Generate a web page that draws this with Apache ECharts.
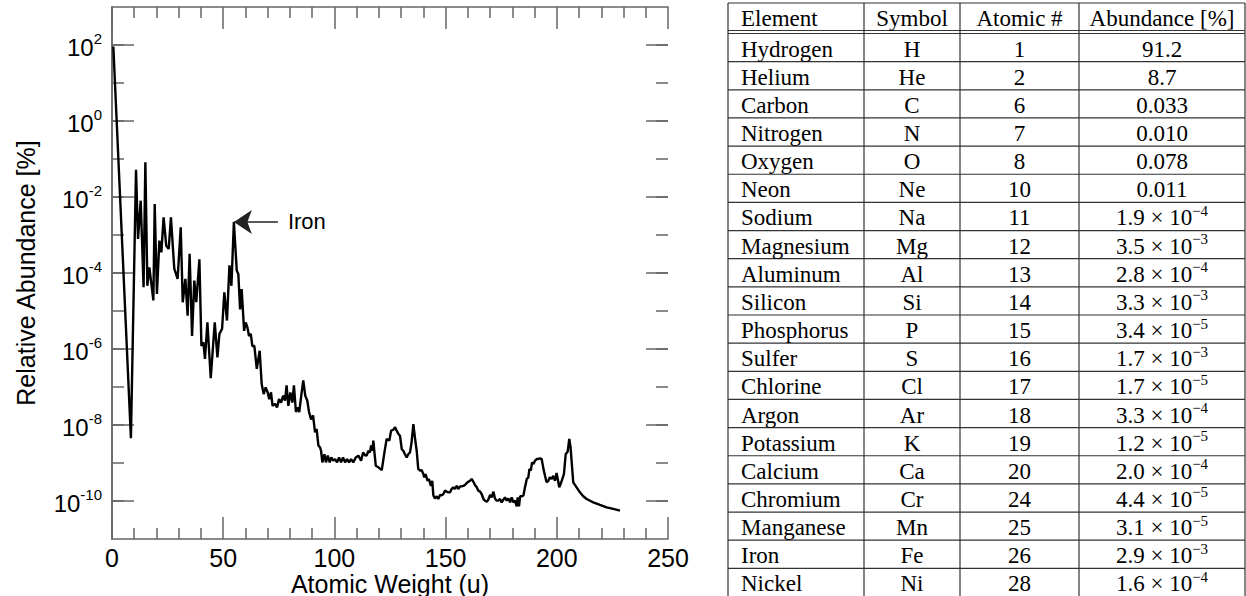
<!DOCTYPE html>
<html>
<head>
<meta charset="utf-8">
<script src="https://cdn.jsdelivr.net/npm/echarts@6/dist/echarts.min.js"></script>
<style>
html,body{margin:0;padding:0;background:#fff;}
#chart{width:1246px;height:596px;}
</style>
</head>
<body>
<div id="chart"></div>
<script>
// ---------- Line chart data ----------
const atomicWeight = [
  0.6, 8.5, 10.8, 11.7, 12.9, 14.2, 15.0, 15.9, 16.8, 18.6,
  19.2, 20.2, 21.3, 22.2, 23.2, 24.4, 25.5, 26.5, 28.0, 29.5,
  30.9, 31.8, 33.0, 34.0, 34.9, 36.0, 37.0, 37.9, 39.3, 40.2,
  41.1, 41.8, 42.9, 44.4, 46.2, 47.4, 48.3, 49.5, 50.5, 51.7,
  52.8, 53.7, 54.8, 56.1, 56.8, 57.6, 58.3, 59.4, 60.1, 60.9,
  61.6, 62.4, 63.1, 64.0, 65.1, 66.4, 67.3, 68.2, 69.1, 70.0,
  70.7, 71.5, 72.2, 73.3, 74.2, 75.1, 76.0, 77.0, 77.8, 78.5,
  79.3, 80.2, 81.1, 81.8, 82.7, 83.5, 84.2, 85.1, 86.0, 86.9,
  87.8, 88.6, 89.5, 90.4, 91.3, 92.0, 92.8, 93.5, 94.0, 94.6,
  95.5, 96.2, 97.0, 97.9, 98.6, 99.5, 100.3, 101.2, 102.1, 103.0,
  103.9, 104.8, 105.7, 106.6, 107.5, 108.5, 109.6, 110.8, 112.0, 112.9,
  113.8, 114.5, 115.3, 116.0, 116.5, 117.1, 117.5, 118.0, 118.6, 119.8,
  121.3, 122.5, 123.5, 124.7, 125.5, 126.5, 127.3, 128.0, 128.8, 129.5,
  130.3, 131.0, 131.7, 132.5, 133.2, 134.0, 134.7, 135.5, 136.2, 137.0,
  137.7, 138.5, 139.2, 140.0, 140.4, 141.0, 141.9, 142.5, 143.4, 144.0,
  144.5, 145.2, 146.0, 146.7, 147.5, 148.2, 149.0, 149.7, 150.5, 151.2,
  152.0, 152.7, 153.5, 154.2, 155.0, 155.7, 156.5, 157.2, 158.0, 158.7,
  159.5, 160.2, 161.0, 161.7, 162.5, 163.2, 164.0, 164.7, 165.5, 166.2,
  167.0, 167.7, 168.5, 169.2, 170.0, 170.7, 171.5, 172.2, 173.0, 173.7,
  174.5, 175.2, 176.7, 177.5, 178.2, 179.0, 179.7, 180.5, 181.2, 182.0,
  182.4, 183.0, 183.5, 184.2, 185.0, 185.7, 186.5, 187.2, 187.7, 188.3,
  188.9, 189.5, 190.2, 191.0, 191.7, 192.5, 193.2, 194.0, 194.7, 195.4,
  196.2, 196.9, 197.7, 198.4, 199.2, 199.9, 200.7, 201.1, 201.7, 202.5,
  203.2, 204.0, 204.9, 205.6, 206.2, 206.7, 207.4, 208.9, 210.4, 211.9,
  213.4, 216.4, 219.4, 222.4, 225.4, 228.4
];
const relAbundance = [
  91, 4.5e-9, 5.2e-2, 7.9e-4, 8.0e-3, 4.2e-5, 8.2e-2, 4.6e-5, 1.4e-4, 1.9e-5,
  6.5e-3, 2.8e-5, 7.1e-4, 3.5e-4, 2.9e-3, 5.2e-4, 4.3e-4, 2.9e-3, 1.3e-4, 7.0e-5,
  1.6e-3, 1.7e-5, 7.0e-5, 7.5e-6, 3.2e-4, 2.2e-6, 6.3e-5, 1.7e-5, 2.3e-4, 1.2e-6,
  1.5e-6, 5.5e-7, 5.0e-6, 1.7e-7, 5.0e-6, 6.0e-7, 2.5e-6, 3.4e-6, 3.1e-5, 5.6e-6,
  1.6e-4, 4.6e-5, 2.2e-3, 1.15e-4, 9.4e-5, 1.1e-5, 3.8e-5, 3.0e-6, 5.0e-6, 3.7e-6,
  2.2e-6, 2.5e-6, 1.2e-6, 1.2e-6, 3.0e-7, 9.0e-7, 1.2e-7, 6.5e-8, 9.8e-8, 7.2e-8,
  4.8e-8, 7.2e-8, 3.2e-8, 3.6e-8, 2.9e-8, 4.8e-8, 3.9e-8, 5.9e-8, 4.4e-8, 1.1e-7,
  3.2e-8, 7.2e-8, 3.9e-8, 1.1e-7, 2.2e-8, 2.9e-8, 2.2e-8, 5.9e-8, 1.5e-7, 5.9e-8,
  4.4e-8, 2.2e-8, 1.4e-8, 1.8e-8, 6.4e-9, 7.9e-9, 2.9e-9, 2.6e-9, 2.1e-9, 1.04e-9,
  1.7e-9, 1.04e-9, 1.56e-9, 1.04e-9, 1.4e-9, 1.15e-9, 1.27e-9, 1.04e-9, 1.4e-9, 1.04e-9,
  1.4e-9, 1.04e-9, 1.27e-9, 1.04e-9, 1.27e-9, 1.04e-9, 1.4e-9, 1.56e-9, 1.15e-9, 1.9e-9,
  1.6e-9, 1.56e-9, 2.1e-9, 1.9e-9, 2.9e-9, 2.1e-9, 3.9e-9, 1.9e-9, 8.5e-10, 7.7e-10,
  6.5e-10, 1.9e-9, 4.3e-9, 3.9e-9, 7.1e-9, 7.5e-9, 8.7e-9, 7.1e-9, 5.8e-9, 5.2e-9,
  2.3e-9, 2.1e-9, 1.7e-9, 1.4e-9, 1.7e-9, 1.9e-9, 3.5e-9, 1.06e-8, 4.7e-9, 2.1e-9,
  7.0e-10, 6.3e-10, 6.5e-10, 5.1e-10, 4.2e-10, 5.1e-10, 3.4e-10, 3.8e-10, 2.5e-10, 3.4e-10,
  1.4e-10, 1.17e-10, 1.33e-10, 1.13e-10, 1.44e-10, 1.4e-10, 1.53e-10, 1.87e-10, 1.76e-10, 1.69e-10,
  1.69e-10, 2.07e-10, 2.29e-10, 2.07e-10, 2.5e-10, 2.07e-10, 2.43e-10, 2.43e-10, 2.5e-10, 2.64e-10,
  2.98e-10, 3.2e-10, 3.4e-10, 3.8e-10, 3.2e-10, 2.64e-10, 2.29e-10, 1.87e-10, 1.76e-10, 1.53e-10,
  1.13e-10, 1.02e-10, 9.6e-11, 1.08e-10, 1.44e-10, 1.25e-10, 1.76e-10, 1.17e-10, 1.02e-10, 1.02e-10,
  1.13e-10, 9.2e-11, 1.25e-10, 1.02e-10, 1.17e-10, 9.2e-11, 1.25e-10, 9.2e-11, 1.02e-10, 7.2e-11,
  1.25e-10, 7.2e-11, 1.33e-10, 1.33e-10, 1.4e-10, 2.29e-10, 3.8e-10, 4.2e-10, 7.0e-10, 6.3e-10,
  1.04e-9, 9.4e-10, 1.15e-9, 1.27e-9, 1.27e-9, 1.33e-9, 1.27e-9, 7.0e-10, 4.6e-10, 3.1e-10,
  3.4e-10, 4.2e-10, 3.8e-10, 4.6e-10, 3.4e-10, 5.5e-10, 3.1e-10, 2.29e-10, 2.8e-10, 3.8e-10,
  5.1e-10, 1.7e-9, 2.0e-9, 4.3e-9, 2.6e-9, 1.04e-9, 3.1e-10, 2.29e-10, 1.69e-10, 1.33e-10,
  1.13e-10, 9.2e-11, 7.9e-11, 6.8e-11, 6.2e-11, 5.6e-11
];
const xRange = [0, 250];
const xTickStep = 50;
const yExponentRange = [-11, 3];
const yLabelExponentRange = [-10, 2];
const annotationText = 'Iron';
const xTitle = 'Atomic Weight (u)';
const yTitle = 'Relative Abundance [%]';

// ---------- Table data ----------
const tableHeaders = ['Element', 'Symbol', 'Atomic #', 'Abundance [%]'];
const elementNames = ['Hydrogen','Helium','Carbon','Nitrogen','Oxygen','Neon','Sodium','Magnesium','Aluminum','Silicon','Phosphorus','Sulfer','Chlorine','Argon','Potassium','Calcium','Chromium','Manganese','Iron','Nickel'];
const elementSymbols = ['H','He','C','N','O','Ne','Na','Mg','Al','Si','P','S','Cl','Ar','K','Ca','Cr','Mn','Fe','Ni'];
const atomicNumbers = [1,2,6,7,8,10,11,12,13,14,15,16,17,18,19,20,24,25,26,28];
const abundanceValues = ['91.2','8.7','0.033','0.010','0.078','0.011','1.9e-4','3.5e-3','2.8e-4','3.3e-3','3.4e-5','1.7e-3','1.7e-5','3.3e-4','1.2e-5','2.0e-4','4.4e-5','3.1e-5','2.9e-3','1.6e-4'];

// ---------- Layout / style ----------
const SANS = 'Liberation Sans, Arial, Helvetica, sans-serif';
const SERIF = 'Liberation Serif, Times New Roman, serif';
const FRAME = { left: 112, right: 578, top: 7, bottom: 57 };
const decadePx = (596 - FRAME.top - FRAME.bottom) / (yExponentRange[1] - yExponentRange[0]);
const insetTop = FRAME.top + decadePx * (yExponentRange[1] - yLabelExponentRange[1]);
const insetBottom = FRAME.bottom + decadePx * (yLabelExponentRange[0] - yExponentRange[0]);
const axisCol = '#666';
const axisLS = { color: axisCol, width: 1.5 };

const chart = echarts.init(document.getElementById('chart'), null, { renderer: 'svg', width: 1246, height: 596 });

const seriesData = atomicWeight.map((a, i) => [a, relAbundance[i]]);

// iron peak: highest point between 50 and 60
let ironIdx = 0;
atomicWeight.forEach((a, i) => {
  if (a >= 50 && a <= 60 && (atomicWeight[ironIdx] < 50 || relAbundance[i] > relAbundance[ironIdx])) ironIdx = i;
});
const ironPt = [atomicWeight[ironIdx], relAbundance[ironIdx]];

function xAxisDef(pos, withLabels) {
  return {
    gridIndex: 0, type: 'value', position: pos, min: xRange[0], max: xRange[1], interval: xTickStep,
    axisLine: { show: true, onZero: false, lineStyle: axisLS },
    axisTick: { show: true, inside: true, length: 22, lineStyle: axisLS },
    minorTick: { show: true, splitNumber: 5, length: 11, lineStyle: axisLS },
    splitLine: { show: false },
    axisLabel: withLabels ? { show: true, fontSize: 25, color: '#000', fontFamily: SANS, margin: 6 } : { show: false },
    name: withLabels ? xTitle : '',
    nameLocation: 'middle', nameGap: 32, nameMoveOverlap: false,
    nameTextStyle: { fontSize: 25, color: '#000', fontFamily: SANS, lineHeight: 25 }
  };
}
function yFrameAxis(pos, withName) {
  return {
    gridIndex: 0, type: 'log', logBase: 10, position: pos,
    min: Math.pow(10, yExponentRange[0]), max: Math.pow(10, yExponentRange[1]),
    axisLine: { show: true, lineStyle: axisLS },
    axisTick: { show: false }, axisLabel: { show: false }, splitLine: { show: false },
    name: withName ? yTitle : '', nameLocation: 'middle', nameRotate: 90, nameGap: 74, nameMoveOverlap: false,
    nameTextStyle: { fontSize: 25, color: '#000', fontFamily: SANS }
  };
}
function yTickAxis(pos, step, len, withLabels) {
  return {
    gridIndex: 1, type: 'log', logBase: 10, position: pos,
    min: Math.pow(10, yLabelExponentRange[0]), max: Math.pow(10, yLabelExponentRange[1]),
    interval: step,
    axisLine: { show: false },
    axisTick: { show: true, inside: true, length: len, lineStyle: axisLS },
    splitLine: { show: false },
    axisLabel: withLabels ? {
      show: true, margin: 10,
      formatter: v => '{b|10}{s|' + Math.round(Math.log10(v)) + '}',
      rich: {
        b: { fontSize: 24, fontFamily: SANS, color: '#000', lineHeight: 28, verticalAlign: 'bottom' },
        s: { fontSize: 15, fontFamily: SANS, color: '#000', lineHeight: 15, verticalAlign: 'top' }
      }
    } : { show: false }
  };
}

// ---------- Table built as graphic elements ----------
const TBL = { cols: [728, 864, 960, 1079, 1245], top: 3, headBottom: 30.5, bodyTop: 33.5, rowH: 28.15, padL: 13 };
const tblLine = { stroke: '#333', lineWidth: 1.2 };
const tableEls = [];
const nRows = elementNames.length;
const hLines = [TBL.top, TBL.headBottom, TBL.bodyTop];
for (let i = 1; i <= nRows; i++) hLines.push(TBL.bodyTop + i * TBL.rowH);
hLines.forEach(y => tableEls.push({ type: 'line', silent: true, shape: { x1: TBL.cols[0], y1: y, x2: TBL.cols[4], y2: y }, style: tblLine }));
TBL.cols.forEach(x => tableEls.push({ type: 'line', silent: true, shape: { x1: x, y1: TBL.top, x2: x, y2: TBL.bodyTop + nRows * TBL.rowH }, style: tblLine }));

const serifRich = {
  b: { fontSize: 23, fontFamily: SERIF, fill: '#000', color: '#000', lineHeight: 26, verticalAlign: 'bottom' },
  s: { fontSize: 15, fontFamily: SERIF, fill: '#000', color: '#000', lineHeight: 15, verticalAlign: 'top' }
};
function cellText(x, y, txt, align) {
  tableEls.push({
    type: 'text', silent: true, x: x, y: y,
    style: { text: txt, rich: serifRich, fontSize: 23, fontFamily: SERIF, fill: '#000', align: align, verticalAlign: 'middle' }
  });
}
function fmtAbund(s) {
  if (s.indexOf('e') >= 0) {
    const parts = s.split('e');
    const ex = parseInt(parts[1], 10);
    return '{b|' + parts[0] + ' \u00d7 10}{s|' + (ex < 0 ? '\u2212' : '') + Math.abs(ex) + '}';
  }
  return '{b|' + s + '}';
}
const colCenter = c => (TBL.cols[c] + TBL.cols[c + 1]) / 2;
const headY = (TBL.top + TBL.headBottom) / 2;
cellText(TBL.cols[0] + TBL.padL, headY, '{b|' + tableHeaders[0] + '}', 'left');
for (let c = 1; c < 4; c++) cellText(colCenter(c), headY, '{b|' + tableHeaders[c] + '}', 'center');
for (let i = 0; i < nRows; i++) {
  const y = TBL.bodyTop + (i + 0.5) * TBL.rowH;
  cellText(TBL.cols[0] + TBL.padL, y, '{b|' + elementNames[i] + '}', 'left');
  cellText(colCenter(1), y, '{b|' + elementSymbols[i] + '}', 'center');
  cellText(colCenter(2), y, '{b|' + atomicNumbers[i] + '}', 'center');
  cellText(colCenter(3), y, fmtAbund(abundanceValues[i]), 'center');
}

const option = {
  backgroundColor: '#fff',
  animation: false,
  grid: [
    { left: FRAME.left, right: FRAME.right, top: FRAME.top, bottom: FRAME.bottom, containLabel: false, outerBoundsMode: 'none' },
    { left: FRAME.left, right: FRAME.right, top: insetTop, bottom: insetBottom, containLabel: false, outerBoundsMode: 'none' }
  ],
  xAxis: [
    xAxisDef('bottom', true),
    xAxisDef('top', false),
    { gridIndex: 1, type: 'value', min: xRange[0], max: xRange[1], show: false }
  ],
  yAxis: [
    yFrameAxis('left', true),
    yFrameAxis('right', false),
    yTickAxis('left', 2, 22, true),
    yTickAxis('left', 1, 12, false),
    yTickAxis('right', 2, 22, false),
    yTickAxis('right', 1, 12, false)
  ],
  series: [{
    type: 'line', xAxisIndex: 0, yAxisIndex: 0,
    data: seriesData, showSymbol: false, symbol: 'none', smooth: false,
    lineStyle: { color: '#000', width: 2.4 }, silent: true,
    markLine: {
      silent: true, animation: false,
      symbol: ['none', 'arrow'], symbolSize: [18, 18],
      lineStyle: { color: '#222', width: 1.6, type: 'solid' },
      label: { show: true, position: 'start', formatter: annotationText, fontSize: 22, color: '#000', fontFamily: SANS, distance: 10 },
      emphasis: { disabled: true },
      data: [[ { coord: [ironPt[0] + 19.8, ironPt[1]] }, { coord: [ironPt[0], ironPt[1]] } ]]
    }
  }],
  graphic: { elements: tableEls }
};
chart.setOption(option);
</script>
</body>
</html>
